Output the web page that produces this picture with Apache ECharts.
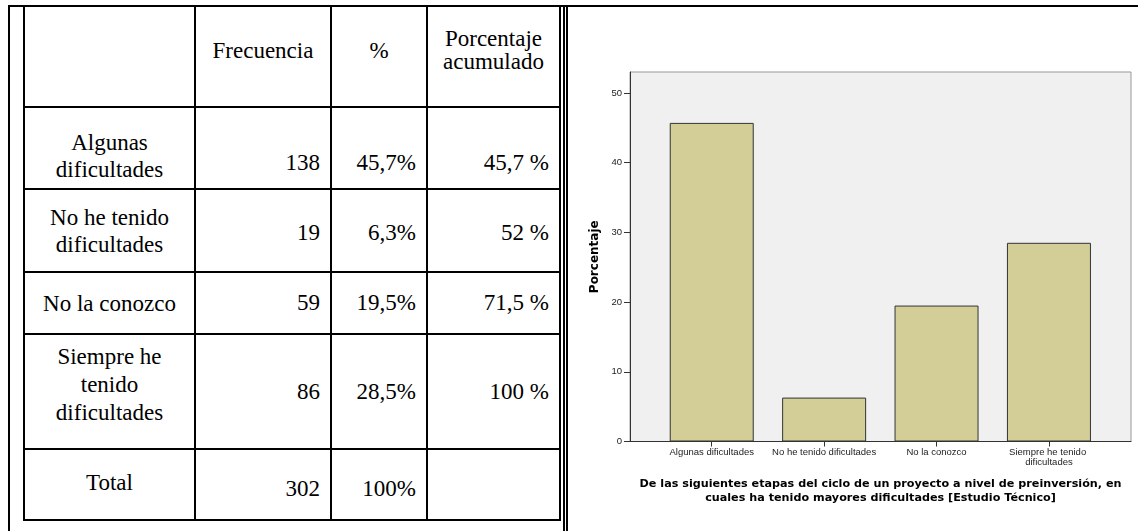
<!DOCTYPE html>
<html>
<head>
<meta charset="utf-8">
<script src="https://cdn.jsdelivr.net/npm/echarts@6/dist/echarts.min.js"></script>
<style>
  html, body { margin: 0; padding: 0; background: #fff; }
  body { width: 1138px; height: 531px; position: relative; overflow: hidden; }
  .ln { position: absolute; background: #000; }
  #tbl {
    position: absolute; left: 23px; top: 5px;
    border-collapse: collapse; table-layout: fixed;
    font-family: "Liberation Serif", "Times New Roman", serif;
    font-size: 23px; color: #000;
  }
  #tbl td { border: 2px solid #000; padding: 0 10px; vertical-align: middle; }
  #tbl td.lab { text-align: center; line-height: 27px; padding: 0 6px; }
  #tbl td.num { text-align: right; }
  #tbl tr.hdr td { text-align: center; line-height: 23px; padding-bottom: 13px; }
  #tbl tr.r1 td.lab { padding-top: 16px; }
  #tbl tr.r1 td.num { padding-top: 30px; }
  #tbl tr.r2 td.num { padding-top: 4px; }
  #tbl tr.r4 td.lab { line-height: 28px; padding-bottom: 14px; }
  #tbl tr.r5 td.lab { padding-bottom: 4px; }
  #tbl tr.r5 td.num { padding-top: 8px; }
  #chart { position: absolute; left: 570px; top: 0; width: 568px; height: 531px; }
</style>
</head>
<body>
<div class="ln" style="left:8px;top:5px;width:1130px;height:2px;"></div>
<div class="ln" style="left:8px;top:5px;width:2px;height:526px;"></div>
<div class="ln" style="left:563px;top:5px;width:1.5px;height:526px;"></div>
<div class="ln" style="left:566px;top:5px;width:1.5px;height:526px;"></div>
<table id="tbl">
  <colgroup><col style="width:171px"><col style="width:136px"><col style="width:96px"><col style="width:133px"></colgroup>
  <tbody id="tbody"></tbody>
</table>
<div id="chart"></div>
<script>
// ---- data ----
const headers = ['', 'Frecuencia', '%', 'Porcentaje acumulado'];
const rowLabels = ['Algunas dificultades', 'No he tenido dificultades', 'No la conozco', 'Siempre he tenido dificultades', 'Total'];
const frequencies = [138, 19, 59, 86, 302];
const percentTexts = ['45,7%', '6,3%', '19,5%', '28,5%', '100%'];
const cumulativeTexts = ['45,7 %', '52 %', '71,5 %', '100 %', ''];

const categories = ['Algunas dificultades', 'No he tenido dificultades', 'No la conozco', 'Siempre he tenido dificultades'];
const percentValues = [45.7, 6.3, 19.5, 28.5];
const yTicks = [0, 10, 20, 30, 40, 50];
const yAxisTitle = 'Porcentaje';
const xAxisTitle = 'De las siguientes etapas del ciclo de un proyecto a nivel de preinversión, en\ncuales ha tenido mayores dificultades [Estudio Técnico]';

// ---- table ----
const rowHeights = [101, 82, 83, 62, 115, 71];
const tbody = document.getElementById('tbody');
function addRow(cells, cls, h) {
  const tr = document.createElement('tr');
  tr.className = cls;
  tr.style.height = h + 'px';
  cells.forEach((c, i) => {
    const td = document.createElement('td');
    td.textContent = c;
    td.className = i === 0 ? 'lab' : 'num';
    tr.appendChild(td);
  });
  tbody.appendChild(tr);
}
addRow(headers, 'hdr', rowHeights[0]);
rowLabels.forEach((lab, i) => {
  addRow([lab, String(frequencies[i]), percentTexts[i], cumulativeTexts[i]], 'r' + (i + 1), rowHeights[i + 1]);
});

// ---- chart ----
const chart = echarts.init(document.getElementById('chart'), null, { renderer: 'canvas' });
const catIdx = categories.map((_, i) => i);
const font = '"Liberation Sans", Arial, sans-serif';
const boldFont = '"DejaVu Sans", "Liberation Sans", sans-serif';
chart.setOption({
  animation: false,
  textStyle: { fontFamily: font },
  grid: {
    left: 60, right: 7, top: 72, bottom: 89.5,
    show: true, backgroundColor: '#f0f0f0', borderColor: '#999', borderWidth: 1
  },
  xAxis: {
    type: 'value', min: -0.727, max: 3.73,
    splitLine: { show: false },
    axisLine: { show: true, onZero: false, lineStyle: { color: '#333', width: 1 } },
    axisTick: { show: true, customValues: catIdx, length: 5, lineStyle: { color: '#333' } },
    axisLabel: {
      customValues: catIdx,
      formatter: v => categories[Math.round(v)],
      fontFamily: font, fontSize: 9.5, color: '#222', margin: 6, lineHeight: 10,
      width: 112, overflow: 'break', align: 'center'
    },
    name: xAxisTitle, nameLocation: 'middle', nameGap: 36,
    nameTextStyle: { fontFamily: boldFont, fontWeight: 'bold', fontSize: 11.2, lineHeight: 14, color: '#000', align: 'center' }
  },
  yAxis: {
    type: 'value', min: 0, max: 53, interval: 10,
    splitLine: { show: false },
    axisLine: { show: true, onZero: false, lineStyle: { color: '#333', width: 1 } },
    axisTick: { show: true, customValues: yTicks, length: 6, lineStyle: { color: '#333' } },
    axisLabel: { customValues: yTicks, fontFamily: font, fontSize: 9.5, color: '#222', margin: 8 },
    name: yAxisTitle, nameLocation: 'middle', nameGap: 15, nameRotate: 90,
    nameTextStyle: { fontFamily: boldFont, fontWeight: 'bold', fontSize: 12, color: '#000' }
  },
  series: [{
    type: 'bar',
    data: percentValues.map((v, i) => [i, v]),
    barWidth: 84,
    itemStyle: { color: '#d3ce97', borderColor: '#333', borderWidth: 1 }
  }]
});
</script>
</body>
</html>
